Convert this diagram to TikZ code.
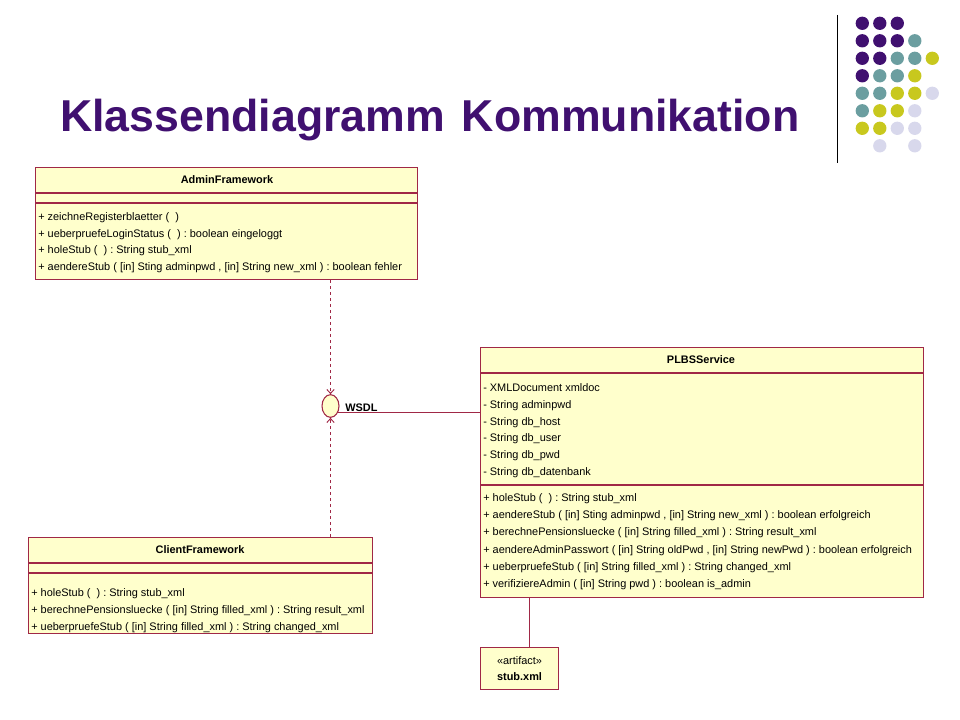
\documentclass[tikz,border=0pt]{standalone}
\usepackage{fontspec}
\setmainfont{Liberation Sans}
\usetikzlibrary{arrows.meta,shapes.geometric}

\definecolor{titlepurple}{RGB}{64,16,112}
\definecolor{dotteal}{RGB}{107,158,160}
\definecolor{dotolive}{RGB}{200,200,30}
\definecolor{dotlilac}{RGB}{216,216,236}
\definecolor{umlred}{RGB}{160,40,70}
\definecolor{umlfill}{RGB}{255,255,204}

\newcommand{\umlfont}{\fontsize{8.2}{12.5}\selectfont}
\frenchspacing

\begin{document}
\begin{tikzpicture}[x=0.75pt, y=-0.75pt,
    classbox/.style={draw=umlred, fill=umlfill, line width=0.8pt, anchor=north west, inner sep=0pt},
    classname/.style={font=\umlfont\bfseries, inner sep=0pt},
    member/.style={font=\umlfont, anchor=west, inner sep=0pt, text height=7pt, text depth=2pt},
    umlline/.style={draw=umlred, line width=0.8pt},
    dep/.style={draw=umlred, line width=0.7pt, dash pattern=on 2.5pt off 2pt, -{Straight Barb[length=3pt,width=5.5pt]}},
    iface/.style={draw=umlred, fill=umlfill, ellipse, line width=0.8pt, minimum width=12.75pt, minimum height=17pt, inner sep=0pt}
]
    \useasboundingbox (0,0) rectangle (960,720);

    % title and logo
    \node[font=\fontsize{33.5}{38}\selectfont\bfseries, text=titlepurple, anchor=base west, inner sep=0pt] (title) at (60,132) {Klassendiagramm\hspace{0.38em}Kommunikation};
    \draw[black, line width=0.6pt] (837,15) -- (837,163);
    \foreach \i/\j in {1/1,2/1,3/1,1/2,2/2,3/2,1/3,2/3,1/4}
        \fill[titlepurple] ({844.8+17.5*\i},{5.8+17.5*\j}) circle (5pt);
    \foreach \i/\j in {4/2,3/3,4/3,2/4,3/4,1/5,2/5,1/6}
        \fill[dotteal] ({844.8+17.5*\i},{5.8+17.5*\j}) circle (5pt);
    \foreach \i/\j in {5/3,4/4,3/5,4/5,2/6,3/6,1/7,2/7}
        \fill[dotolive] ({844.8+17.5*\i},{5.8+17.5*\j}) circle (5pt);
    \foreach \i/\j in {5/5,4/6,3/7,4/7,2/8,4/8}
        \fill[dotlilac] ({844.8+17.5*\i},{5.8+17.5*\j}) circle (5pt);

    % AdminFramework
    \node[classbox, minimum width=286.5pt, minimum height=84pt] (admin) at (35,167) {};
    \draw[umlline] (admin.west |- 0,193) -- (admin.east |- 0,193);
    \draw[umlline] (admin.west |- 0,203) -- (admin.east |- 0,203);
    \node[classname] (admin-name) at (227,180) {AdminFramework};
    \node[member] (admin-m1) at (38,217) {+ zeichneRegisterblaetter ( \ )};
    \node[member] (admin-m2) at (38,234) {+ ueberpruefeLoginStatus ( \ ) : boolean eingeloggt};
    \node[member] (admin-m3) at (38,250) {+ holeStub ( \ ) : String stub\_xml};
    \node[member] (admin-m4) at (38,267) {+ aendereStub ( [in] Sting adminpwd , [in] String new\_xml ) : boolean fehler};

    % ClientFramework
    \node[classbox, minimum width=258pt, minimum height=72pt] (client) at (28,537) {};
    \draw[umlline] (client.west |- 0,563) -- (client.east |- 0,563);
    \draw[umlline] (client.west |- 0,573) -- (client.east |- 0,573);
    \node[classname] (client-name) at (200,550) {ClientFramework};
    \node[member] (client-m1) at (31,593) {+ holeStub ( \ ) : String stub\_xml};
    \node[member] (client-m2) at (31,610) {+ berechnePensionsluecke ( [in] String filled\_xml ) : String result\_xml};
    \node[member] (client-m3) at (31,627) {+ ueberpruefeStub ( [in] String filled\_xml ) : String changed\_xml};

    % PLBSService
    \node[classbox, minimum width=332.25pt, minimum height=187.5pt] (plbs) at (480,347) {};
    \draw[umlline] (plbs.west |- 0,373) -- (plbs.east |- 0,373);
    \draw[umlline] (plbs.west |- 0,485) -- (plbs.east |- 0,485);
    \node[classname] (plbs-name) at (701,360) {PLBSService};
    \node[member] (plbs-a1) at (483,388) {- XMLDocument xmldoc};
    \node[member] (plbs-a2) at (483,405) {- String adminpwd};
    \node[member] (plbs-a3) at (483,422) {- String db\_host};
    \node[member] (plbs-a4) at (483,438) {- String db\_user};
    \node[member] (plbs-a5) at (483,455) {- String db\_pwd};
    \node[member] (plbs-a6) at (483,472) {- String db\_datenbank};
    \node[member] (plbs-m1) at (483,498) {+ holeStub ( \ ) : String stub\_xml};
    \node[member] (plbs-m2) at (483,515) {+ aendereStub ( [in] Sting adminpwd , [in] String new\_xml ) : boolean erfolgreich};
    \node[member] (plbs-m3) at (483,532) {+ berechnePensionsluecke ( [in] String filled\_xml ) : String result\_xml};
    \node[member] (plbs-m4) at (483,550) {+ aendereAdminPasswort ( [in] String oldPwd , [in] String newPwd ) : boolean erfolgreich};
    \node[member] (plbs-m5) at (483,567) {+ ueberpruefeStub ( [in] String filled\_xml ) : String changed\_xml};
    \node[member] (plbs-m6) at (483,584) {+ verifiziereAdmin ( [in] String pwd ) : boolean is\_admin};

    % artifact
    \node[classbox, minimum width=58.5pt, minimum height=31.5pt, align=center, font=\umlfont] (stub) at (480,647) {«artifact»\\\textbf{stub.xml}};

    % interface
    \node[iface] (wsdl) at (330.5,406) {};
    \node[font=\umlfont\bfseries, anchor=base west, inner sep=0pt] (wsdl-label) at (345,411) {WSDL};

    \draw[dep] (wsdl |- admin.south) -- (wsdl.north);
    \draw[dep] (wsdl |- client.north) -- (wsdl.south);
    \draw[umlline] (wsdl.-40) -- (wsdl.-40 -| plbs.west);
    \draw[umlline] ([xshift=7.5pt]stub.north) -- ([xshift=7.5pt]stub.north |- plbs.south);
\end{tikzpicture}
\end{document}
